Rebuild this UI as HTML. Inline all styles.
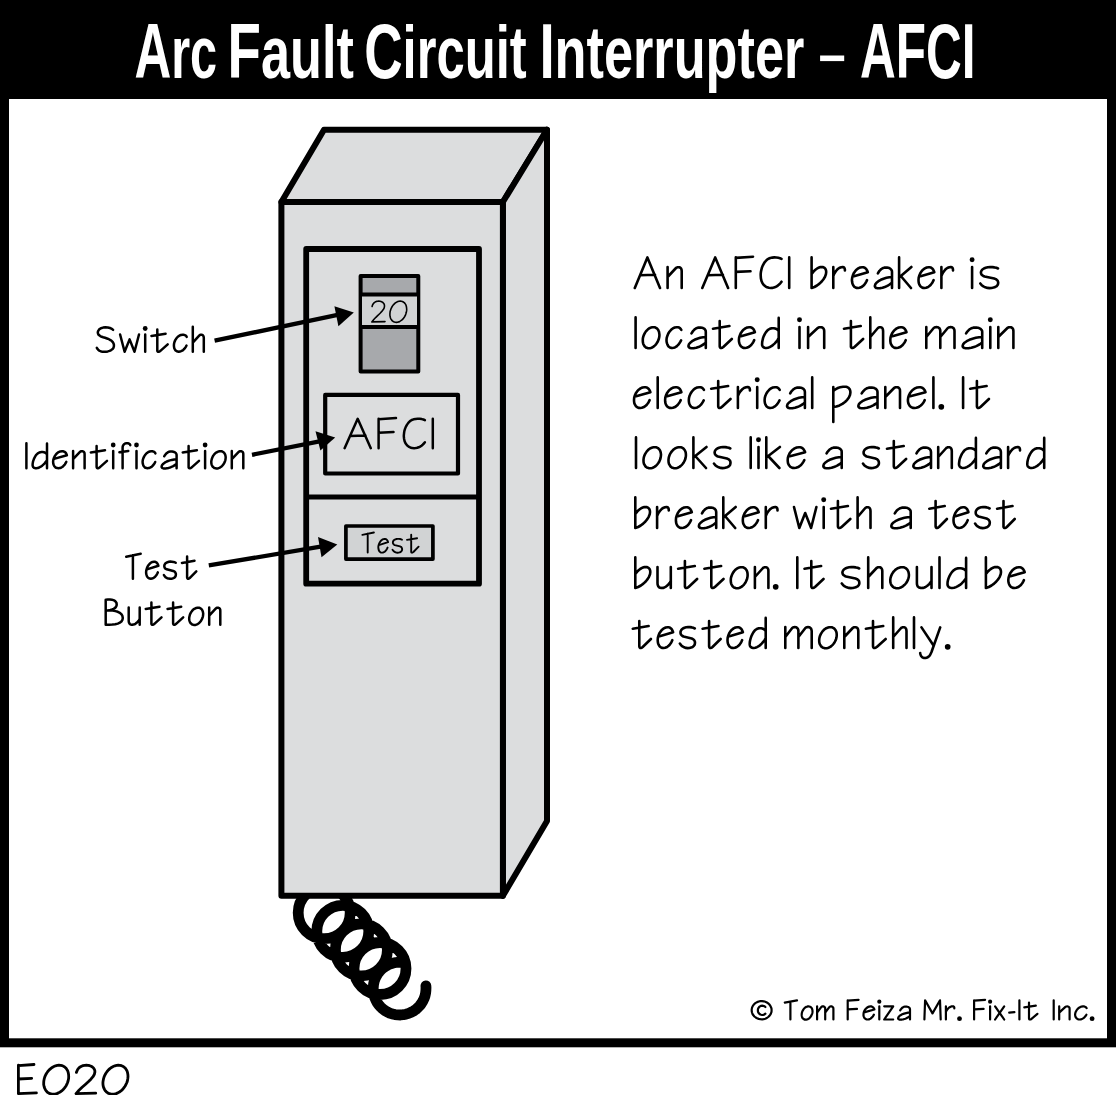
<!DOCTYPE html>
<html><head><meta charset="utf-8"><style>
html,body{margin:0;padding:0;background:#fff;}
body{width:1116px;height:1095px;overflow:hidden;}
svg{display:block;}
text{font-family:"Liberation Sans",sans-serif;}
</style></head><body>
<svg width="1116" height="1095" viewBox="0 0 1116 1095">
<rect x="0" y="0" width="1116" height="1095" fill="#fff"/>
<rect x="0" y="0" width="1116" height="99" fill="#000"/>
<rect x="0" y="0" width="9" height="1047" fill="#000"/>
<rect x="1107" y="0" width="9" height="1047" fill="#000"/>
<rect x="0" y="1038.3" width="1116" height="9" fill="#000"/>
<g font-weight="bold" fill="#fff"><text x="134.40" y="77.7" font-weight="bold" fill="#fff" textLength="82.71" lengthAdjust="spacingAndGlyphs"><tspan font-size="77">A</tspan><tspan font-size="73.5">r</tspan><tspan font-size="73.5">c</tspan></text><text x="227.60" y="77.7" font-weight="bold" fill="#fff" textLength="126.18" lengthAdjust="spacingAndGlyphs"><tspan font-size="77">F</tspan><tspan font-size="73.5">a</tspan><tspan font-size="73.5">u</tspan><tspan font-size="73.5">l</tspan><tspan font-size="73.5">t</tspan></text><text x="364.20" y="77.7" font-weight="bold" fill="#fff" textLength="162.45" lengthAdjust="spacingAndGlyphs"><tspan font-size="77">C</tspan><tspan font-size="73.5">i</tspan><tspan font-size="73.5">r</tspan><tspan font-size="73.5">c</tspan><tspan font-size="73.5">u</tspan><tspan font-size="73.5">i</tspan><tspan font-size="73.5">t</tspan></text><text x="539.40" y="77.7" font-weight="bold" fill="#fff" textLength="264.88" lengthAdjust="spacingAndGlyphs"><tspan font-size="77">I</tspan><tspan font-size="73.5">n</tspan><tspan font-size="73.5">t</tspan><tspan font-size="73.5">e</tspan><tspan font-size="73.5">r</tspan><tspan font-size="73.5">r</tspan><tspan font-size="73.5">u</tspan><tspan font-size="73.5">p</tspan><tspan font-size="73.5">t</tspan><tspan font-size="73.5">e</tspan><tspan font-size="73.5">r</tspan></text><text x="860.00" y="77.7" font-weight="bold" fill="#fff" textLength="115.41" lengthAdjust="spacingAndGlyphs"><tspan font-size="77">A</tspan><tspan font-size="77">F</tspan><tspan font-size="77">C</tspan><tspan font-size="77">I</tspan></text></g><rect x="820.1" y="55.5" width="24.1" height="5.6" fill="#fff"/>
<path d="M298.2 912.7a26.0 26.0 0 1 0 52.0 0a26.0 26.0 0 1 0 -52.0 0M316.8 931.3a26.0 26.0 0 1 0 52.0 0a26.0 26.0 0 1 0 -52.0 0M335.4 949.9a26.0 26.0 0 1 0 52.0 0a26.0 26.0 0 1 0 -52.0 0M354.0 968.5a26.0 26.0 0 1 0 52.0 0a26.0 26.0 0 1 0 -52.0 0M404.2 962.6 401.4 962.3 398.7 962.2 395.9 962.5 393.2 963.0 390.6 963.8 388.0 964.9 385.6 966.2 383.3 967.8 381.3 969.6 379.4 971.6 377.7 973.8 376.3 976.2 375.1 978.7 374.2 981.3 373.6 984.0 373.3 986.8 373.2 989.5 373.5 992.3 374.0 995.0 374.8 997.6 375.9 1000.2 377.2 1002.6 378.8 1004.9 380.6 1006.9 382.6 1008.8 384.8 1010.5 387.2 1011.9 389.7 1013.1 392.3 1014.0 395.0 1014.6 397.8 1014.9 400.5 1015.0 403.3 1014.7 406.0 1014.2 408.6 1013.4 411.2 1012.3 413.6 1011.0 415.9 1009.4 417.9 1007.6 419.8 1005.6 421.5 1003.4 422.9 1001.0 424.1 998.5 425.0 995.9 425.6 993.2 425.9 990.4 426.0 987.7 425.9 985.8" fill="none" stroke="#000" stroke-width="10.8" stroke-linecap="round" stroke-linejoin="round"/>
<g stroke="#000" stroke-width="6" stroke-linejoin="round" fill="#dcddde">
<polygon points="324,129.7 547,129.7 502.9,202 281.4,202"/>
<polygon points="502.9,202 547,129.7 547,821 502.9,895.8"/>
<rect x="281.4" y="202" width="221.5" height="693.8"/>
<rect x="306.2" y="249" width="172.8" height="334.7" stroke-width="5.8"/>
<line x1="306.5" y1="497" x2="479" y2="497" stroke-width="5"/>
<rect x="325.2" y="394.9" width="132.8" height="78.6" stroke-width="4.2"/>
<rect x="345.9" y="526" width="87" height="33.1" stroke-width="3.7" fill="#d1d3d4"/>
</g>
<g stroke="#000" stroke-width="4" stroke-linejoin="round">
<rect x="360.6" y="276" width="57.7" height="95.6" fill="#a7a9ac"/>
<rect x="362" y="294.5" width="55" height="32.5" fill="#d1d3d4" stroke="none"/>
<line x1="360.6" y1="294.5" x2="418.3" y2="294.5"/>
<line x1="360.6" y1="327" x2="418.3" y2="327"/>
</g>
<g stroke="#000" stroke-width="4.3" fill="none">
<line x1="214.6" y1="340.7" x2="340" y2="314.4"/>
<line x1="252" y1="454.8" x2="322" y2="440.8"/>
<line x1="208.8" y1="565.4" x2="325" y2="545.9"/>
</g>
<g fill="#000">
<polygon points="353.8,312.5 334.4,306.3 338.4,326.2"/>
<polygon points="335.2,437.5 315.5,431.3 320.4,450.6"/>
<polygon points="337.3,544.4 318,537.1 321.5,557.3"/>
</g>
<g fill="none" stroke="#000" stroke-linecap="round" stroke-linejoin="round">
<path d="M634.8 288.0 647.4 257.4 660.0 288.0M640.2 275.2 655.0 274.8M667.6 267.0 667.6 288.0M667.6 277.0 676.0 268.0 676.7 267.6 677.5 267.3 678.5 267.2 679.4 267.3 680.3 267.7 681.0 268.4 681.5 269.5 681.7 271.0 681.7 288.0M702.3 288.0 715.2 257.4 728.1 288.0M707.8 275.2 722.9 274.8M735.8 257.4 735.8 288.0M735.8 257.9 753.0 256.7M735.8 271.9 750.5 271.2M781.5 258.9 780.0 258.2 778.3 257.8 776.3 257.5 774.3 257.4 772.3 257.6 770.3 258.0 768.4 258.8 766.8 259.9 765.0 261.8 763.7 263.8 762.6 265.9 761.8 268.0 761.3 270.1 760.9 272.0 760.7 273.8 760.7 275.4 760.9 278.4 761.5 281.0 762.5 283.2 763.8 285.0 765.4 286.3 767.1 287.3 768.9 287.8 770.8 288.0 772.3 287.9 773.8 287.6 775.3 287.0 776.7 286.3 778.1 285.4 779.3 284.3 780.5 283.1 781.5 281.7M789.2 257.4 789.2 288.0M811.6 257.4 811.6 288.0M811.6 274.0 812.7 272.6 813.9 271.2 815.1 270.0 816.4 269.0 817.7 268.2 819.1 267.5 820.4 267.1 821.8 267.0 822.8 267.1 823.7 267.4 824.4 267.8 825.1 268.4 825.5 269.1 825.9 270.0 826.1 270.9 826.2 272.0 825.9 274.3 825.0 276.8 823.5 279.2 821.7 281.5 819.5 283.6 817.0 285.5 814.4 287.0 811.6 288.0M833.3 267.0 833.3 288.0M833.3 276.0 834.0 274.2 835.0 272.5 836.0 271.0 837.2 269.6 838.5 268.5 839.8 267.7 841.2 267.2 842.6 267.0 843.2 267.1 843.7 267.3 844.1 267.6 844.4 268.0 844.6 268.5 844.8 269.1 844.9 269.8 844.9 270.5M854.0 276.2 867.8 272.2 867.4 271.1 866.9 270.1 866.3 269.2 865.7 268.5 864.9 267.9 864.1 267.5 863.2 267.3 862.2 267.2 860.1 267.5 858.2 268.4 856.5 269.7 855.0 271.4 853.7 273.3 852.8 275.5 852.2 277.7 851.9 280.0 852.1 281.8 852.4 283.4 852.9 284.7 853.6 285.9 854.4 286.8 855.5 287.5 856.7 287.9 858.0 288.0 859.5 287.8 860.9 287.3 862.3 286.5 863.5 285.5 864.6 284.3 865.5 283.0 866.3 281.6 867.0 280.2M877.9 273.4 878.7 272.0 879.5 270.8 880.5 269.8 881.4 269.0 882.5 268.3 883.5 267.9 884.6 267.6 885.7 267.5 887.0 267.6 888.2 267.8 889.2 268.1 890.2 268.6 890.9 269.3 891.5 270.0 891.9 270.9 892.0 272.0 892.0 288.0M892.0 277.0 889.3 277.2 886.4 277.8 883.5 278.7 880.8 279.8 878.4 281.2 876.5 282.7 875.3 284.3 874.8 286.0 875.0 286.8 875.4 287.4 876.1 287.9 877.0 288.1 878.0 288.2 879.0 288.2 880.1 288.2 881.0 288.0 882.5 287.7 884.0 287.2 885.4 286.7 886.8 286.1 888.2 285.3 889.5 284.5 890.8 283.6 892.0 282.5M899.1 257.4 899.1 288.0M911.4 267.0 899.1 277.5M900.8 276.0 911.0 288.0M920.6 276.2 934.3 272.2 933.9 271.1 933.4 270.1 932.9 269.2 932.2 268.5 931.5 267.9 930.7 267.5 929.7 267.3 928.7 267.2 926.7 267.5 924.8 268.4 923.0 269.7 921.5 271.4 920.3 273.3 919.3 275.5 918.7 277.7 918.5 280.0 918.6 281.8 918.9 283.4 919.4 284.7 920.1 285.9 921.0 286.8 922.0 287.5 923.2 287.9 924.6 288.0 926.1 287.8 927.5 287.3 928.8 286.5 930.0 285.5 931.1 284.3 932.1 283.0 932.9 281.6 933.6 280.2M941.4 267.0 941.4 288.0M941.4 276.0 942.2 274.2 943.1 272.5 944.2 271.0 945.3 269.6 946.6 268.5 947.9 267.7 949.3 267.2 950.7 267.0 951.3 267.1 951.8 267.3 952.2 267.6 952.5 268.0 952.8 268.5 952.9 269.1 953.0 269.8 953.0 270.5M972.1 267.0 972.1 288.0M998.0 268.5 996.4 267.8 994.4 267.4 992.3 267.1 990.0 267.1 987.8 267.3 985.7 267.8 983.9 268.5 982.4 269.5 981.6 270.5 981.1 271.5 980.9 272.5 981.1 273.6 981.5 274.5 982.3 275.3 983.3 276.0 984.6 276.5 994.2 278.5 995.8 279.1 997.0 280.0 997.8 281.1 998.2 282.4 998.1 283.7 997.6 285.0 996.7 286.1 995.3 287.0 993.6 287.6 991.6 288.0 989.5 288.1 987.4 287.9 985.3 287.3 983.4 286.4 981.7 285.2 980.3 283.5" stroke-width="2.6"/>
<circle fill="#000" stroke="none" cx="972.1" cy="259.7" r="2.47"/>
<path d="M635.6 317.4 635.6 348.0M657.8 341.5 657.0 342.8 656.2 344.0 655.3 345.1 654.2 346.1 653.2 346.9 652.1 347.5 650.9 347.9 649.8 348.2 648.7 348.2 647.6 348.1 646.6 347.8 645.7 347.3 644.9 346.6 644.2 345.7 643.6 344.7 643.2 343.6 642.9 342.3 642.8 341.0 642.8 339.6 642.9 338.1 643.3 336.7 643.7 335.3 644.4 333.9 645.1 332.6 645.9 331.4 646.9 330.3 647.9 329.3 649.0 328.5 650.1 327.9 651.2 327.5 652.3 327.2 653.5 327.2 654.5 327.3 655.5 327.6 656.4 328.1 657.3 328.8 658.0 329.7 658.5 330.7 659.0 331.8 659.2 333.1 659.4 334.4 659.4 335.8 659.2 337.3 658.9 338.7 658.4 340.1 657.8 341.5M681.3 329.9 680.8 329.1 680.3 328.5 679.8 328.0 679.2 327.6 678.5 327.4 677.9 327.3 677.3 327.2 676.7 327.2 674.7 327.5 672.8 328.4 671.1 329.8 669.6 331.5 668.3 333.5 667.4 335.7 666.7 337.9 666.5 340.0 666.6 341.8 667.0 343.4 667.5 344.7 668.1 345.9 668.9 346.8 669.9 347.5 671.0 347.9 672.2 348.0 673.6 347.8 674.9 347.4 676.2 346.7 677.3 345.7 678.4 344.6 679.4 343.3 680.3 341.9 681.1 340.4M691.5 333.4 692.4 332.0 693.2 330.8 694.2 329.8 695.1 329.0 696.2 328.3 697.2 327.9 698.3 327.6 699.4 327.5 700.7 327.6 701.9 327.8 703.0 328.1 704.0 328.6 704.8 329.3 705.3 330.0 705.7 330.9 705.8 332.0 705.8 348.0M705.8 337.0 703.1 337.2 700.1 337.8 697.2 338.7 694.5 339.8 692.1 341.2 690.2 342.7 688.9 344.3 688.4 346.0 688.6 346.8 689.1 347.4 689.8 347.9 690.6 348.1 691.6 348.2 692.7 348.2 693.7 348.2 694.7 348.0 696.2 347.7 697.7 347.2 699.2 346.7 700.6 346.1 701.9 345.3 703.3 344.5 704.6 343.6 705.8 342.5M713.0 328.7 729.4 326.0M719.7 321.0 719.7 346.0 719.8 346.8 720.0 347.4 720.4 347.8 720.8 348.0 721.4 348.0 722.0 347.8 722.6 347.5 723.3 347.0 731.8 339.0M741.0 336.2 754.9 332.2 754.5 331.1 754.0 330.1 753.5 329.2 752.8 328.5 752.0 327.9 751.2 327.5 750.3 327.3 749.3 327.2 747.2 327.5 745.3 328.4 743.5 329.7 742.0 331.4 740.7 333.3 739.8 335.5 739.1 337.7 738.9 340.0 739.0 341.8 739.4 343.4 739.9 344.7 740.6 345.9 741.5 346.8 742.5 347.5 743.7 347.9 745.0 348.0 746.6 347.8 748.0 347.3 749.4 346.5 750.6 345.5 751.7 344.3 752.7 343.0 753.5 341.6 754.2 340.2M778.7 317.9 778.7 348.0M778.7 331.0 777.7 329.8 776.5 329.0 775.1 328.5 773.8 328.2 772.4 328.2 771.0 328.4 769.8 328.8 768.6 329.5 767.3 330.6 766.0 332.1 764.9 333.9 763.9 335.8 763.1 337.9 762.6 340.0 762.2 342.0 762.1 344.0 762.1 345.0 762.4 345.9 762.8 346.6 763.3 347.1 763.9 347.5 764.6 347.8 765.4 348.0 766.3 348.0 767.9 347.8 769.7 347.1 771.4 346.2 773.1 344.9 774.8 343.4 776.3 341.7 777.6 339.9 778.7 338.0M799.5 327.0 799.5 348.0M808.1 327.0 808.1 348.0M808.1 337.0 817.7 328.0 818.5 327.6 819.5 327.3 820.5 327.2 821.6 327.3 822.6 327.7 823.4 328.4 824.0 329.5 824.2 331.0 824.2 348.0M844.0 328.7 860.7 326.0M850.9 321.0 850.9 346.0 850.9 346.8 851.2 347.4 851.5 347.8 852.0 348.0 852.5 348.0 853.1 347.8 853.8 347.5 854.5 347.0 863.1 339.0M870.3 317.4 870.3 348.0M870.3 337.0 877.9 328.0 878.5 327.6 879.3 327.3 880.2 327.2 881.0 327.3 881.8 327.7 882.5 328.4 882.9 329.5 883.1 331.0 883.1 348.0M892.4 336.2 906.5 332.2 906.1 331.1 905.6 330.1 905.0 329.2 904.4 328.5 903.6 327.9 902.7 327.5 901.8 327.3 900.8 327.2 898.7 327.5 896.7 328.4 895.0 329.7 893.4 331.4 892.1 333.3 891.1 335.5 890.5 337.7 890.3 340.0 890.4 341.8 890.7 343.4 891.3 344.7 892.0 345.9 892.9 346.8 893.9 347.5 895.1 347.9 896.5 348.0 898.1 347.8 899.5 347.3 900.9 346.5 902.1 345.5 903.2 344.3 904.2 343.0 905.1 341.6 905.7 340.2M926.3 327.0 926.3 348.0M926.3 337.0 933.7 328.0 934.5 327.5 935.4 327.2 936.5 327.1 937.6 327.2 938.6 327.7 939.5 328.4 940.1 329.5 940.3 331.0 940.3 348.0M940.3 337.0 947.8 328.0 948.6 327.5 949.6 327.2 950.7 327.1 951.8 327.2 952.8 327.7 953.7 328.4 954.3 329.5 954.5 331.0 954.5 348.0M966.1 333.4 967.0 332.0 968.0 330.8 969.0 329.8 970.1 329.0 971.3 328.3 972.5 327.9 973.7 327.6 975.0 327.5 976.5 327.6 977.8 327.8 979.0 328.1 980.1 328.6 981.0 329.3 981.6 330.0 982.1 330.9 982.2 332.0 982.2 348.0M982.2 337.0 979.1 337.2 975.8 337.8 972.5 338.7 969.4 339.8 966.7 341.2 964.5 342.7 963.1 344.3 962.6 346.0 962.8 346.8 963.3 347.4 964.1 347.9 965.1 348.1 966.2 348.2 967.4 348.2 968.6 348.2 969.7 348.0 971.4 347.7 973.0 347.2 974.7 346.7 976.3 346.1 977.8 345.3 979.3 344.5 980.8 343.6 982.2 342.5M990.3 327.0 990.3 348.0M998.3 327.0 998.3 348.0M998.3 337.0 1007.4 328.0 1008.1 327.6 1009.0 327.3 1010.0 327.2 1011.0 327.3 1011.9 327.7 1012.7 328.4 1013.2 329.5 1013.4 331.0 1013.4 348.0" stroke-width="2.6"/>
<circle fill="#000" stroke="none" cx="799.5" cy="319.7" r="2.47"/>
<circle fill="#000" stroke="none" cx="990.3" cy="319.7" r="2.47"/>
<path d="M636.1 396.2 650.4 392.2 650.0 391.1 649.5 390.1 648.9 389.2 648.2 388.5 647.5 387.9 646.6 387.5 645.6 387.3 644.6 387.2 642.5 387.5 640.5 388.4 638.7 389.7 637.1 391.4 635.8 393.3 634.8 395.5 634.2 397.7 634.0 400.0 634.1 401.8 634.4 403.4 635.0 404.7 635.7 405.9 636.6 406.8 637.7 407.5 638.9 407.9 640.3 408.0 641.8 407.8 643.3 407.3 644.7 406.5 646.0 405.5 647.1 404.3 648.1 403.0 648.9 401.6 649.6 400.2M657.7 377.4 657.7 408.0M667.2 396.2 681.4 392.2 681.0 391.1 680.5 390.1 680.0 389.2 679.3 388.5 678.5 387.9 677.6 387.5 676.7 387.3 675.7 387.2 673.5 387.5 671.6 388.4 669.8 389.7 668.2 391.4 666.9 393.3 665.9 395.5 665.3 397.7 665.1 400.0 665.2 401.8 665.5 403.4 666.0 404.7 666.7 405.9 667.6 406.8 668.7 407.5 669.9 407.9 671.3 408.0 672.9 407.8 674.4 407.3 675.8 406.5 677.0 405.5 678.1 404.3 679.1 403.0 680.0 401.6 680.7 400.2M703.9 389.9 703.4 389.1 702.9 388.5 702.3 388.0 701.7 387.6 701.1 387.4 700.5 387.3 699.8 387.2 699.2 387.2 697.1 387.5 695.2 388.4 693.4 389.8 691.9 391.5 690.6 393.5 689.6 395.7 689.0 397.9 688.8 400.0 688.9 401.8 689.2 403.4 689.7 404.7 690.4 405.9 691.2 406.8 692.2 407.5 693.3 407.9 694.6 408.0 696.0 407.8 697.3 407.4 698.6 406.7 699.9 405.7 701.0 404.6 702.0 403.3 702.9 401.9 703.7 400.4M711.2 388.7 728.1 386.0M718.2 381.0 718.2 406.0 718.3 406.8 718.5 407.4 718.8 407.8 719.3 408.0 719.8 408.0 720.5 407.8 721.1 407.5 721.8 407.0 730.5 399.0M737.9 387.0 737.9 408.0M737.9 396.0 738.7 394.2 739.6 392.5 740.7 391.0 742.0 389.6 743.3 388.5 744.6 387.7 746.1 387.2 747.5 387.0 748.2 387.1 748.7 387.3 749.1 387.6 749.4 388.0 749.7 388.5 749.8 389.1 749.9 389.8 749.9 390.5M757.2 387.0 757.2 408.0M779.7 389.9 779.2 389.1 778.7 388.5 778.1 388.0 777.5 387.6 776.9 387.4 776.2 387.3 775.6 387.2 775.0 387.2 772.9 387.5 771.0 388.4 769.2 389.8 767.7 391.5 766.4 393.5 765.4 395.7 764.8 397.9 764.6 400.0 764.7 401.8 765.0 403.4 765.5 404.7 766.2 405.9 767.0 406.8 768.0 407.5 769.1 407.9 770.4 408.0 771.8 407.8 773.1 407.4 774.4 406.7 775.7 405.7 776.8 404.6 777.8 403.3 778.7 401.9 779.5 400.4M790.2 393.4 791.0 392.0 791.9 390.8 792.9 389.8 793.9 389.0 795.0 388.3 796.0 387.9 797.2 387.6 798.3 387.5 799.6 387.6 800.9 387.8 802.0 388.1 803.0 388.6 803.8 389.3 804.4 390.0 804.7 390.9 804.9 392.0 804.9 408.0M804.9 397.0 802.0 397.2 799.0 397.8 796.0 398.7 793.2 399.8 790.8 401.2 788.8 402.7 787.5 404.3 787.0 406.0 787.2 406.8 787.7 407.4 788.4 407.9 789.3 408.1 790.3 408.2 791.4 408.2 792.5 408.2 793.5 408.0 795.0 407.7 796.5 407.2 798.0 406.7 799.5 406.1 800.9 405.3 802.3 404.5 803.6 403.6 804.9 402.5M812.2 377.4 812.2 408.0M833.3 387.0 833.3 422.0M833.3 391.0 834.5 390.0 835.8 389.1 837.2 388.3 838.6 387.7 840.1 387.3 841.6 387.0 843.1 386.8 844.7 386.7 846.0 386.8 847.1 387.1 848.1 387.6 848.9 388.3 849.6 389.1 850.0 390.1 850.3 391.2 850.4 392.5 850.0 395.0 848.9 397.4 847.2 399.8 845.0 402.0 842.4 403.9 839.5 405.4 836.4 406.5 833.3 407.0M861.7 393.4 862.6 392.0 863.6 390.8 864.6 389.8 865.7 389.0 866.8 388.3 868.0 387.9 869.2 387.6 870.4 387.5 871.8 387.6 873.2 387.8 874.4 388.1 875.4 388.6 876.3 389.3 876.9 390.0 877.3 390.9 877.5 392.0 877.5 408.0M877.5 397.0 874.4 397.2 871.2 397.8 868.0 398.7 865.0 399.8 862.3 401.2 860.2 402.7 858.8 404.3 858.3 406.0 858.5 406.8 859.0 407.4 859.7 407.9 860.7 408.1 861.8 408.2 863.0 408.2 864.1 408.2 865.2 408.0 866.9 407.7 868.5 407.2 870.1 406.7 871.6 406.1 873.2 405.3 874.6 404.5 876.1 403.6 877.5 402.5M885.3 387.0 885.3 408.0M885.3 397.0 894.1 388.0 894.8 387.6 895.7 387.3 896.7 387.2 897.7 387.3 898.6 387.7 899.3 388.4 899.9 389.5 900.0 391.0 900.0 408.0M910.2 396.2 925.5 392.2 925.1 391.1 924.6 390.1 923.9 389.2 923.2 388.5 922.4 387.9 921.5 387.5 920.4 387.3 919.3 387.2 917.1 387.5 914.9 388.4 913.0 389.7 911.3 391.4 909.9 393.3 908.8 395.5 908.2 397.7 907.9 400.0 908.0 401.8 908.4 403.4 909.0 404.7 909.7 405.9 910.7 406.8 911.9 407.5 913.2 407.9 914.7 408.0 916.4 407.8 918.0 407.3 919.4 406.5 920.8 405.5 922.0 404.3 923.1 403.0 924.0 401.6 924.7 400.2M933.4 377.4 933.4 408.0M963.1 377.4 963.1 408.0M970.2 388.7 986.6 386.0M976.9 381.0 976.9 406.0 977.0 406.8 977.2 407.4 977.6 407.8 978.0 408.0 978.5 408.0 979.1 407.8 979.8 407.5 980.5 407.0 988.9 399.0" stroke-width="2.6"/>
<circle fill="#000" stroke="none" cx="757.2" cy="379.7" r="2.47"/>
<circle fill="#000" stroke="none" cx="941.3" cy="406.8" r="2.86"/>
<path d="M636.0 437.4 636.0 468.0M659.3 461.5 658.5 462.8 657.6 464.0 656.6 465.1 655.6 466.1 654.4 466.9 653.3 467.5 652.1 467.9 650.9 468.2 649.7 468.2 648.6 468.1 647.6 467.8 646.6 467.3 645.7 466.6 645.0 465.7 644.4 464.7 643.9 463.6 643.6 462.3 643.5 461.0 643.5 459.6 643.7 458.1 644.0 456.7 644.5 455.3 645.2 453.9 646.0 452.6 646.8 451.4 647.8 450.3 648.9 449.3 650.0 448.5 651.2 447.9 652.4 447.5 653.6 447.2 654.7 447.2 655.9 447.3 656.9 447.6 657.9 448.1 658.7 448.8 659.5 449.7 660.1 450.7 660.5 451.8 660.8 453.1 661.0 454.4 660.9 455.8 660.7 457.3 660.4 458.7 659.9 460.1 659.3 461.5M684.2 461.5 683.5 462.8 682.6 464.0 681.6 465.1 680.5 466.1 679.4 466.9 678.2 467.5 677.0 467.9 675.8 468.2 674.7 468.2 673.6 468.1 672.5 467.8 671.6 467.3 670.7 466.6 670.0 465.7 669.4 464.7 668.9 463.6 668.6 462.3 668.5 461.0 668.5 459.6 668.7 458.1 669.0 456.7 669.5 455.3 670.1 453.9 670.9 452.6 671.8 451.4 672.8 450.3 673.9 449.3 675.0 448.5 676.2 447.9 677.3 447.5 678.5 447.2 679.7 447.2 680.8 447.3 681.9 447.6 682.8 448.1 683.7 448.8 684.4 449.7 685.0 450.7 685.5 451.8 685.8 453.1 685.9 454.4 685.9 455.8 685.7 457.3 685.4 458.7 684.9 460.1 684.2 461.5M693.4 437.4 693.4 468.0M706.5 447.0 693.4 457.5M695.2 456.0 706.0 468.0M730.3 448.5 728.8 447.8 727.0 447.4 725.1 447.1 723.0 447.1 720.9 447.3 719.0 447.8 717.3 448.5 716.0 449.5 715.2 450.5 714.8 451.5 714.6 452.5 714.8 453.6 715.2 454.5 715.9 455.3 716.8 456.0 718.0 456.5 726.9 458.5 728.3 459.1 729.4 460.0 730.2 461.1 730.5 462.4 730.4 463.7 730.0 465.0 729.1 466.1 727.8 467.0 726.2 467.6 724.4 468.0 722.5 468.1 720.6 467.9 718.7 467.3 716.9 466.4 715.3 465.2 714.0 463.5M750.7 437.4 750.7 468.0M758.5 447.0 758.5 468.0M766.3 437.4 766.3 468.0M779.9 447.0 766.3 457.5M768.1 456.0 779.4 468.0M789.9 456.2 805.1 452.2 804.7 451.1 804.1 450.1 803.5 449.2 802.8 448.5 802.0 447.9 801.1 447.5 800.1 447.3 799.0 447.2 796.7 447.5 794.6 448.4 792.7 449.7 791.0 451.4 789.6 453.3 788.6 455.5 787.9 457.7 787.7 460.0 787.8 461.8 788.1 463.4 788.7 464.7 789.5 465.9 790.4 466.8 791.6 467.5 792.9 467.9 794.3 468.0 796.0 467.8 797.6 467.3 799.1 466.5 800.4 465.5 801.6 464.3 802.6 463.0 803.5 461.6 804.3 460.2M826.6 453.4 827.4 452.0 828.4 450.8 829.3 449.8 830.4 449.0 831.5 448.3 832.6 447.9 833.8 447.6 834.9 447.5 836.3 447.6 837.6 447.8 838.7 448.1 839.7 448.6 840.6 449.3 841.2 450.0 841.6 450.9 841.7 452.0 841.7 468.0M841.7 457.0 838.8 457.2 835.7 457.8 832.6 458.7 829.7 459.8 827.2 461.2 825.1 462.7 823.8 464.3 823.3 466.0 823.5 466.8 824.0 467.4 824.7 467.9 825.6 468.1 826.7 468.2 827.8 468.2 828.9 468.2 830.0 468.0 831.6 467.7 833.1 467.2 834.6 466.7 836.1 466.1 837.6 465.3 839.0 464.5 840.4 463.6 841.7 462.5M878.8 448.5 877.3 447.8 875.6 447.4 873.7 447.1 871.7 447.1 869.7 447.3 867.8 447.8 866.2 448.5 864.9 449.5 864.2 450.5 863.7 451.5 863.6 452.5 863.7 453.6 864.1 454.5 864.8 455.3 865.7 456.0 866.8 456.5 875.4 458.5 876.8 459.1 877.9 460.0 878.6 461.1 878.9 462.4 878.9 463.7 878.4 465.0 877.6 466.1 876.4 467.0 874.8 467.6 873.1 468.0 871.2 468.1 869.3 467.9 867.5 467.3 865.8 466.4 864.2 465.2 863.0 463.5M887.0 448.7 903.7 446.0M893.8 441.0 893.8 466.0 893.9 466.8 894.1 467.4 894.5 467.8 894.9 468.0 895.5 468.0 896.1 467.8 896.8 467.5 897.5 467.0 906.1 459.0M916.5 453.4 917.3 452.0 918.2 450.8 919.1 449.8 920.1 449.0 921.2 448.3 922.2 447.9 923.3 447.6 924.5 447.5 925.8 447.6 927.0 447.8 928.1 448.1 929.1 448.6 929.9 449.3 930.5 450.0 930.8 450.9 931.0 452.0 931.0 468.0M931.0 457.0 928.2 457.2 925.2 457.8 922.2 458.7 919.5 459.8 917.0 461.2 915.1 462.7 913.8 464.3 913.3 466.0 913.5 466.8 913.9 467.4 914.7 467.9 915.5 468.1 916.6 468.2 917.6 468.2 918.7 468.2 919.7 468.0 921.2 467.7 922.7 467.2 924.2 466.7 925.6 466.1 927.0 465.3 928.4 464.5 929.7 463.6 931.0 462.5M938.2 447.0 938.2 468.0M938.2 457.0 946.3 448.0 947.0 447.6 947.8 447.3 948.7 447.2 949.6 447.3 950.4 447.7 951.1 448.4 951.6 449.5 951.8 451.0 951.8 468.0M975.9 437.9 975.9 468.0M975.9 451.0 974.9 449.8 973.7 449.0 972.3 448.5 970.9 448.2 969.5 448.2 968.2 448.4 966.9 448.8 965.7 449.5 964.3 450.6 963.1 452.1 961.9 453.9 961.0 455.8 960.1 457.9 959.5 460.0 959.2 462.0 959.0 464.0 959.1 465.0 959.4 465.9 959.8 466.6 960.3 467.1 960.9 467.5 961.7 467.8 962.5 468.0 963.3 468.0 965.0 467.8 966.8 467.1 968.5 466.2 970.3 464.9 972.0 463.4 973.5 461.7 974.8 459.9 975.9 458.0M986.3 453.4 987.2 452.0 988.1 450.8 989.0 449.8 990.0 449.0 991.0 448.3 992.1 447.9 993.2 447.6 994.4 447.5 995.7 447.6 996.9 447.8 998.0 448.1 999.0 448.6 999.8 449.3 1000.4 450.0 1000.7 450.9 1000.9 452.0 1000.9 468.0M1000.9 457.0 998.0 457.2 995.1 457.8 992.1 458.7 989.3 459.8 986.9 461.2 984.9 462.7 983.7 464.3 983.2 466.0 983.4 466.8 983.8 467.4 984.5 467.9 985.4 468.1 986.4 468.2 987.5 468.2 988.6 468.2 989.6 468.0 991.1 467.7 992.6 467.2 994.1 466.7 995.5 466.1 996.9 465.3 998.3 464.5 999.6 463.6 1000.9 462.5M1008.1 447.0 1008.1 468.0M1008.1 456.0 1008.9 454.2 1009.9 452.5 1011.0 451.0 1012.2 449.6 1013.5 448.5 1014.8 447.7 1016.2 447.2 1017.7 447.0 1018.3 447.1 1018.8 447.3 1019.3 447.6 1019.6 448.0 1019.8 448.5 1019.9 449.1 1020.0 449.8 1020.0 450.5M1044.2 437.9 1044.2 468.0M1044.2 451.0 1043.1 449.8 1041.9 449.0 1040.6 448.5 1039.2 448.2 1037.8 448.2 1036.4 448.4 1035.1 448.8 1034.0 449.5 1032.6 450.6 1031.3 452.1 1030.2 453.9 1029.2 455.8 1028.4 457.9 1027.8 460.0 1027.4 462.0 1027.3 464.0 1027.4 465.0 1027.6 465.9 1028.0 466.6 1028.6 467.1 1029.2 467.5 1029.9 467.8 1030.7 468.0 1031.6 468.0 1033.3 467.8 1035.0 467.1 1036.8 466.2 1038.5 464.9 1040.2 463.4 1041.7 461.7 1043.1 459.9 1044.2 458.0" stroke-width="2.6"/>
<circle fill="#000" stroke="none" cx="758.5" cy="439.7" r="2.47"/>
<path d="M635.3 497.4 635.3 528.0M635.3 514.0 636.4 512.6 637.6 511.2 638.8 510.0 640.1 509.0 641.4 508.2 642.8 507.5 644.2 507.1 645.6 507.0 646.6 507.1 647.5 507.4 648.2 507.8 648.8 508.4 649.3 509.1 649.7 510.0 649.9 510.9 650.0 512.0 649.7 514.3 648.7 516.8 647.3 519.2 645.4 521.5 643.2 523.6 640.7 525.5 638.1 527.0 635.3 528.0M657.1 507.0 657.1 528.0M657.1 516.0 657.9 514.2 658.8 512.5 659.9 511.0 661.1 509.6 662.3 508.5 663.7 507.7 665.0 507.2 666.4 507.0 667.1 507.1 667.6 507.3 668.0 507.6 668.3 508.0 668.5 508.5 668.7 509.1 668.7 509.8 668.8 510.5M677.9 516.2 691.8 512.2 691.4 511.1 690.9 510.1 690.3 509.2 689.7 508.5 688.9 507.9 688.1 507.5 687.2 507.3 686.2 507.2 684.1 507.5 682.2 508.4 680.4 509.7 678.9 511.4 677.7 513.3 676.7 515.5 676.1 517.7 675.9 520.0 676.0 521.8 676.3 523.4 676.8 524.7 677.5 525.9 678.4 526.8 679.4 527.5 680.6 527.9 682.0 528.0 683.5 527.8 684.9 527.3 686.3 526.5 687.5 525.5 688.6 524.3 689.5 523.0 690.3 521.6 691.0 520.2M702.0 513.4 702.8 512.0 703.6 510.8 704.6 509.8 705.5 509.0 706.6 508.3 707.6 507.9 708.7 507.6 709.8 507.5 711.1 507.6 712.3 507.8 713.4 508.1 714.3 508.6 715.1 509.3 715.7 510.0 716.0 510.9 716.2 512.0 716.2 528.0M716.2 517.0 713.4 517.2 710.5 517.8 707.6 518.7 704.9 519.8 702.5 521.2 700.6 522.7 699.3 524.3 698.9 526.0 699.0 526.8 699.5 527.4 700.2 527.9 701.1 528.1 702.0 528.2 703.1 528.2 704.1 528.2 705.1 528.0 706.6 527.7 708.1 527.2 709.5 526.7 710.9 526.1 712.3 525.3 713.6 524.5 714.9 523.6 716.2 522.5M723.3 497.4 723.3 528.0M735.7 507.0 723.3 517.5M725.0 516.0 735.2 528.0M744.9 516.2 758.7 512.2 758.3 511.1 757.8 510.1 757.3 509.2 756.6 508.5 755.9 507.9 755.0 507.5 754.1 507.3 753.1 507.2 751.0 507.5 749.1 508.4 747.4 509.7 745.9 511.4 744.6 513.3 743.6 515.5 743.0 517.7 742.8 520.0 742.9 521.8 743.2 523.4 743.8 524.7 744.5 525.9 745.3 526.8 746.4 527.5 747.6 527.9 748.9 528.0 750.4 527.8 751.9 527.3 753.2 526.5 754.4 525.5 755.5 524.3 756.5 523.0 757.3 521.6 758.0 520.2M765.8 507.0 765.8 528.0M765.8 516.0 766.6 514.2 767.5 512.5 768.6 511.0 769.8 509.6 771.1 508.5 772.4 507.7 773.8 507.2 775.2 507.0 775.8 507.1 776.3 507.3 776.7 507.6 777.0 508.0 777.3 508.5 777.4 509.1 777.5 509.8 777.5 510.5M794.0 507.0 799.3 528.0 805.2 513.0 811.1 528.0 816.4 507.0M823.7 507.0 823.7 528.0M831.0 508.7 847.9 506.0M837.9 501.0 837.9 526.0 838.0 526.8 838.2 527.4 838.6 527.8 839.0 528.0 839.6 528.0 840.2 527.8 840.9 527.5 841.6 527.0 850.3 519.0M857.6 497.4 857.6 528.0M857.6 517.0 865.3 508.0 865.9 507.6 866.7 507.3 867.6 507.2 868.4 507.3 869.2 507.7 869.9 508.4 870.3 509.5 870.5 511.0 870.5 528.0M894.8 513.4 895.7 512.0 896.6 510.8 897.7 509.8 898.8 509.0 899.9 508.3 901.1 507.9 902.3 507.6 903.6 507.5 905.0 507.6 906.4 507.8 907.6 508.1 908.6 508.6 909.5 509.3 910.1 510.0 910.6 510.9 910.7 512.0 910.7 528.0M910.7 517.0 907.6 517.2 904.4 517.8 901.1 518.7 898.1 519.8 895.4 521.2 893.2 522.7 891.8 524.3 891.3 526.0 891.5 526.8 892.0 527.4 892.8 527.9 893.8 528.1 894.9 528.2 896.0 528.2 897.2 528.2 898.3 528.0 900.0 527.7 901.6 527.2 903.3 526.7 904.8 526.1 906.4 525.3 907.9 524.5 909.3 523.6 910.7 522.5M929.3 508.7 944.7 506.0M935.6 501.0 935.6 526.0 935.7 526.8 935.9 527.4 936.2 527.8 936.6 528.0 937.1 528.0 937.7 527.8 938.3 527.5 939.0 527.0 946.9 519.0M955.5 516.2 968.4 512.2 968.1 511.1 967.6 510.1 967.1 509.2 966.5 508.5 965.8 507.9 965.0 507.5 964.1 507.3 963.2 507.2 961.3 507.5 959.4 508.4 957.8 509.7 956.4 511.4 955.2 513.3 954.3 515.5 953.7 517.7 953.5 520.0 953.6 521.8 953.9 523.4 954.4 524.7 955.1 525.9 955.9 526.8 956.9 527.5 958.0 527.9 959.2 528.0 960.7 527.8 962.0 527.3 963.3 526.5 964.4 525.5 965.4 524.3 966.3 523.0 967.1 521.6 967.7 520.2M989.6 508.5 988.3 507.8 986.7 507.4 984.9 507.1 983.1 507.1 981.2 507.3 979.5 507.8 978.0 508.5 976.9 509.5 976.2 510.5 975.8 511.5 975.7 512.5 975.8 513.6 976.1 514.5 976.7 515.3 977.6 516.0 978.6 516.5 986.5 518.5 987.8 519.1 988.8 520.0 989.5 521.1 989.8 522.4 989.7 523.7 989.3 525.0 988.5 526.1 987.4 527.0 986.0 527.6 984.4 528.0 982.7 528.1 980.9 527.9 979.2 527.3 977.7 526.4 976.3 525.2 975.1 523.5M997.1 508.7 1012.5 506.0M1003.5 501.0 1003.5 526.0 1003.5 526.8 1003.7 527.4 1004.1 527.8 1004.5 528.0 1005.0 528.0 1005.5 527.8 1006.2 527.5 1006.8 527.0 1014.7 519.0" stroke-width="2.6"/>
<circle fill="#000" stroke="none" cx="823.7" cy="499.7" r="2.47"/>
<path d="M635.3 557.4 635.3 588.0M635.3 574.0 636.4 572.6 637.6 571.2 638.9 570.0 640.2 569.0 641.6 568.2 643.0 567.5 644.4 567.1 645.8 567.0 646.8 567.1 647.7 567.4 648.5 567.8 649.1 568.4 649.6 569.1 650.0 570.0 650.2 570.9 650.3 572.0 650.0 574.3 649.0 576.8 647.6 579.2 645.7 581.5 643.4 583.6 640.9 585.5 638.1 587.0 635.3 588.0M657.5 567.0 657.5 583.0 657.6 584.4 657.9 585.5 658.3 586.3 658.8 587.0 659.4 587.5 660.2 587.8 661.0 587.9 661.8 588.0 663.1 587.9 664.3 587.5 665.5 586.8 666.7 586.0 667.8 585.0 668.9 583.8 669.9 582.4 670.8 581.0M670.8 567.0 670.8 588.0M678.1 568.7 694.8 566.0M684.9 561.0 684.9 586.0 685.0 586.8 685.2 587.4 685.6 587.8 686.0 588.0 686.6 588.0 687.2 587.8 687.9 587.5 688.6 587.0 697.1 579.0M704.4 568.7 721.1 566.0M711.3 561.0 711.3 586.0 711.4 586.8 711.6 587.4 711.9 587.8 712.4 588.0 712.9 588.0 713.5 587.8 714.2 587.5 714.9 587.0 723.5 579.0M746.0 581.5 745.3 582.8 744.4 584.0 743.5 585.1 742.4 586.1 741.3 586.9 740.2 587.5 739.0 587.9 737.9 588.2 736.8 588.2 735.7 588.1 734.7 587.8 733.7 587.3 732.9 586.6 732.2 585.7 731.6 584.7 731.2 583.6 730.9 582.3 730.8 581.0 730.8 579.6 730.9 578.1 731.3 576.7 731.8 575.3 732.4 573.9 733.1 572.6 734.0 571.4 734.9 570.3 736.0 569.3 737.1 568.5 738.2 567.9 739.3 567.5 740.5 567.2 741.6 567.2 742.7 567.3 743.7 567.6 744.6 568.1 745.5 568.8 746.2 569.7 746.8 570.7 747.2 571.8 747.5 573.1 747.6 574.4 747.6 575.8 747.4 577.3 747.1 578.7 746.6 580.1 746.0 581.5M754.9 567.0 754.9 588.0M754.9 577.0 763.0 568.0 763.7 567.6 764.5 567.3 765.4 567.2 766.3 567.3 767.1 567.7 767.8 568.5 768.3 569.5 768.4 571.0 768.4 588.0M797.3 557.4 797.3 588.0M804.5 568.7 821.1 566.0M811.3 561.0 811.3 586.0 811.4 586.8 811.6 587.4 812.0 587.8 812.4 588.0 813.0 588.0 813.6 587.8 814.3 587.5 815.0 587.0 823.5 579.0M859.2 568.5 857.6 567.8 855.7 567.4 853.5 567.1 851.3 567.1 849.1 567.3 847.1 567.8 845.3 568.5 843.9 569.5 843.1 570.5 842.6 571.5 842.4 572.5 842.6 573.6 843.0 574.5 843.8 575.3 844.8 576.0 846.0 576.5 855.5 578.5 857.0 579.1 858.2 580.0 859.0 581.1 859.3 582.4 859.3 583.7 858.8 585.0 857.9 586.1 856.5 587.0 854.8 587.6 852.9 588.0 850.8 588.1 848.8 587.9 846.7 587.3 844.8 586.4 843.2 585.2 841.8 583.5M868.2 557.4 868.2 588.0M868.2 577.0 876.6 568.0 877.3 567.6 878.2 567.3 879.1 567.2 880.0 567.3 880.9 567.7 881.6 568.5 882.1 569.5 882.3 571.0 882.3 588.0M907.1 581.5 906.3 582.8 905.3 584.0 904.3 585.1 903.1 586.1 901.9 586.9 900.7 587.5 899.4 587.9 898.2 588.2 896.9 588.2 895.7 588.1 894.6 587.8 893.6 587.3 892.7 586.6 891.9 585.7 891.2 584.7 890.8 583.6 890.4 582.3 890.3 581.0 890.3 579.6 890.5 578.1 890.9 576.7 891.4 575.3 892.1 573.9 892.9 572.6 893.8 571.4 894.9 570.3 896.0 569.3 897.2 568.5 898.5 567.9 899.8 567.5 901.0 567.2 902.3 567.2 903.4 567.3 904.6 567.6 905.6 568.1 906.5 568.8 907.3 569.7 907.9 570.7 908.4 571.8 908.7 573.1 908.9 574.4 908.9 575.8 908.7 577.3 908.3 578.7 907.8 580.1 907.1 581.5M916.9 567.0 916.9 583.0 917.0 584.4 917.3 585.5 917.7 586.3 918.3 587.0 919.0 587.5 919.8 587.8 920.7 587.9 921.6 588.0 923.0 587.9 924.4 587.5 925.7 586.8 927.0 586.0 928.2 585.0 929.4 583.8 930.5 582.4 931.5 581.0M931.5 567.0 931.5 588.0M939.5 557.4 939.5 588.0M966.1 557.9 966.1 588.0M966.1 571.0 964.9 569.8 963.6 569.0 962.1 568.5 960.6 568.2 959.0 568.2 957.5 568.4 956.1 568.8 954.8 569.5 953.3 570.6 951.9 572.1 950.7 573.9 949.6 575.8 948.7 577.9 948.0 580.0 947.6 582.0 947.5 584.0 947.6 585.0 947.9 585.9 948.3 586.6 948.9 587.1 949.6 587.5 950.4 587.8 951.3 588.0 952.2 588.0 954.1 587.8 956.0 587.1 957.9 586.2 959.9 584.9 961.7 583.4 963.4 581.7 964.9 579.9 966.1 578.0M985.9 557.4 985.9 588.0M985.9 574.0 987.0 572.6 988.2 571.2 989.5 570.0 990.8 569.0 992.2 568.2 993.6 567.5 995.0 567.1 996.5 567.0 997.5 567.1 998.4 567.4 999.2 567.8 999.8 568.4 1000.3 569.1 1000.7 570.0 1000.9 570.9 1001.0 572.0 1000.7 574.3 999.7 576.8 998.3 579.2 996.3 581.5 994.1 583.6 991.5 585.5 988.8 587.0 985.9 588.0M1010.5 576.2 1024.7 572.2 1024.3 571.1 1023.8 570.1 1023.2 569.2 1022.5 568.5 1021.8 567.9 1020.9 567.5 1020.0 567.3 1018.9 567.2 1016.8 567.5 1014.8 568.4 1013.0 569.7 1011.5 571.4 1010.2 573.3 1009.2 575.5 1008.6 577.7 1008.3 580.0 1008.4 581.8 1008.8 583.4 1009.3 584.7 1010.0 585.9 1010.9 586.8 1012.0 587.5 1013.2 587.9 1014.6 588.0 1016.2 587.8 1017.6 587.3 1019.0 586.5 1020.3 585.5 1021.4 584.3 1022.4 583.0 1023.2 581.6 1023.9 580.2" stroke-width="2.6"/>
<circle fill="#000" stroke="none" cx="775.7" cy="586.8" r="2.86"/>
<path d="M632.8 628.7 648.6 626.0M639.3 621.0 639.3 646.0 639.4 646.8 639.6 647.4 639.9 647.8 640.3 648.0 640.9 648.0 641.4 647.8 642.1 647.5 642.7 647.0 650.9 639.0M659.7 636.2 673.1 632.2 672.7 631.1 672.2 630.1 671.7 629.2 671.0 628.5 670.3 627.9 669.5 627.5 668.6 627.3 667.7 627.2 665.7 627.5 663.8 628.4 662.1 629.7 660.7 631.4 659.4 633.3 658.5 635.5 657.9 637.7 657.7 640.0 657.8 641.8 658.1 643.4 658.6 644.7 659.3 645.9 660.1 646.8 661.1 647.5 662.3 647.9 663.6 648.0 665.1 647.8 666.5 647.3 667.7 646.5 668.9 645.5 670.0 644.3 670.9 643.0 671.7 641.6 672.3 640.2M694.8 628.5 693.5 627.8 691.8 627.4 690.0 627.1 688.1 627.1 686.2 627.3 684.5 627.8 682.9 628.5 681.7 629.5 681.0 630.5 680.6 631.5 680.5 632.5 680.6 633.6 681.0 634.5 681.6 635.3 682.5 636.0 683.5 636.5 691.7 638.5 693.0 639.1 694.0 640.0 694.7 641.1 695.0 642.4 694.9 643.7 694.5 645.0 693.7 646.1 692.6 647.0 691.1 647.6 689.5 648.0 687.7 648.1 685.9 647.9 684.2 647.3 682.5 646.4 681.1 645.2 679.9 643.5M702.6 628.7 718.4 626.0M709.1 621.0 709.1 646.0 709.2 646.8 709.4 647.4 709.7 647.8 710.1 648.0 710.6 648.0 711.2 647.8 711.9 647.5 712.5 647.0 720.6 639.0M729.5 636.2 742.9 632.2 742.5 631.1 742.0 630.1 741.5 629.2 740.8 628.5 740.1 627.9 739.3 627.5 738.4 627.3 737.4 627.2 735.5 627.5 733.6 628.4 731.9 629.7 730.4 631.4 729.2 633.3 728.3 635.5 727.7 637.7 727.5 640.0 727.6 641.8 727.9 643.4 728.4 644.7 729.1 645.9 729.9 646.8 730.9 647.5 732.1 647.9 733.4 648.0 734.9 647.8 736.2 647.3 737.5 646.5 738.7 645.5 739.8 644.3 740.7 643.0 741.5 641.6 742.1 640.2M765.7 617.9 765.7 648.0M765.7 631.0 764.7 629.8 763.5 629.0 762.3 628.5 761.0 628.2 759.6 628.2 758.3 628.4 757.1 628.8 756.0 629.5 754.7 630.6 753.5 632.1 752.5 633.9 751.5 635.8 750.8 637.9 750.2 640.0 749.8 642.0 749.7 644.0 749.8 645.0 750.0 645.9 750.4 646.6 750.9 647.1 751.5 647.5 752.2 647.8 753.0 648.0 753.8 648.0 755.4 647.8 757.0 647.1 758.7 646.2 760.4 644.9 761.9 643.4 763.4 641.7 764.7 639.9 765.7 638.0M785.3 627.0 785.3 648.0M785.3 637.0 792.2 628.0 792.9 627.5 793.8 627.2 794.8 627.1 795.9 627.2 796.8 627.7 797.6 628.4 798.2 629.5 798.4 631.0 798.4 648.0M798.4 637.0 805.4 628.0 806.1 627.5 807.0 627.2 808.0 627.1 809.1 627.2 810.1 627.7 810.9 628.4 811.4 629.5 811.7 631.0 811.7 648.0M835.0 641.5 834.3 642.8 833.4 644.0 832.4 645.1 831.3 646.1 830.2 646.9 829.0 647.5 827.8 647.9 826.6 648.2 825.4 648.2 824.3 648.1 823.3 647.8 822.3 647.3 821.4 646.6 820.7 645.7 820.1 644.7 819.6 643.6 819.3 642.3 819.2 641.0 819.2 639.6 819.4 638.1 819.7 636.7 820.2 635.3 820.9 633.9 821.7 632.6 822.5 631.4 823.5 630.3 824.6 629.3 825.7 628.5 826.9 627.9 828.1 627.5 829.3 627.2 830.5 627.2 831.6 627.3 832.6 627.6 833.6 628.1 834.5 628.8 835.2 629.7 835.8 630.7 836.3 631.8 836.6 633.1 836.7 634.4 836.7 635.8 836.5 637.3 836.2 638.7 835.7 640.1 835.0 641.5M844.3 627.0 844.3 648.0M844.3 637.0 852.7 628.0 853.3 627.6 854.2 627.3 855.1 627.2 856.1 627.3 856.9 627.7 857.7 628.5 858.1 629.5 858.3 631.0 858.3 648.0M865.9 628.7 883.2 626.0M873.0 621.0 873.0 646.0 873.1 646.8 873.3 647.4 873.7 647.8 874.1 648.0 874.7 648.0 875.3 647.8 876.0 647.5 876.8 647.0 885.7 639.0M893.2 617.4 893.2 648.0M893.2 637.0 901.1 628.0 901.8 627.6 902.6 627.3 903.5 627.2 904.4 627.3 905.2 627.7 905.9 628.5 906.3 629.5 906.5 631.0 906.5 648.0M914.0 617.4 914.0 648.0M921.5 627.4 933.2 645.0M940.2 627.4 931.5 652.0 930.8 653.5 930.2 654.8 929.4 655.9 928.5 656.7 927.6 657.3 926.6 657.7 925.6 657.9 924.5 658.0 923.6 657.9 922.8 657.6 922.2 657.2 921.6 656.6 921.1 655.9 920.7 655.0 920.4 654.1 920.2 653.0" stroke-width="2.6"/>
<circle fill="#000" stroke="none" cx="947.7" cy="646.8" r="2.86"/>
<path d="M113.1 329.9 111.9 328.8 110.0 328.0 107.8 327.5 105.4 327.3 103.1 327.6 100.9 328.3 99.2 329.4 98.1 331.1 97.8 332.3 98.0 333.5 98.4 334.5 99.2 335.3 100.3 336.1 101.7 336.8 103.2 337.3 105.0 337.8 107.0 338.5 108.9 339.2 110.4 340.1 111.8 341.1 112.8 342.2 113.5 343.4 113.9 344.7 113.9 346.2 113.5 347.8 112.6 349.1 111.2 350.1 109.6 350.9 107.8 351.4 106.0 351.7 104.2 351.8 102.5 351.8 101.5 351.5 100.6 351.2 99.7 350.8 98.9 350.4 98.3 349.8 97.7 349.2 97.2 348.5 96.8 347.8M120.1 334.5 124.6 351.8 129.6 339.4 134.5 351.8 139.0 334.5M145.2 334.5 145.2 351.8M151.4 335.9 165.6 333.7M157.3 329.6 157.3 350.1 157.3 350.8 157.5 351.3 157.8 351.6 158.2 351.8 158.7 351.8 159.2 351.6 159.8 351.3 160.4 350.9 167.7 344.4M186.7 336.9 186.3 336.2 185.8 335.7 185.3 335.3 184.8 335.1 184.3 334.9 183.7 334.8 183.2 334.7 182.7 334.7 180.9 335.0 179.3 335.7 177.8 336.8 176.5 338.3 175.4 339.9 174.6 341.6 174.1 343.4 173.9 345.2 174.0 346.6 174.2 347.9 174.7 349.1 175.2 350.0 176.0 350.8 176.8 351.3 177.7 351.6 178.8 351.8 180.0 351.6 181.1 351.2 182.2 350.7 183.2 349.9 184.2 349.0 185.1 347.9 185.8 346.8 186.5 345.5M192.8 326.7 192.8 351.8M192.8 342.7 199.4 335.4 199.9 335.0 200.6 334.8 201.3 334.7 202.0 334.8 202.7 335.1 203.2 335.7 203.6 336.6 203.8 337.8 203.8 351.8" stroke-width="2.5"/>
<circle fill="#000" stroke="none" cx="145.2" cy="328.5" r="2.38"/>
<path d="M26.4 443.2 26.4 468.2M47.0 443.6 47.0 468.2M47.0 454.3 46.1 453.4 45.0 452.7 43.9 452.2 42.7 452.0 41.5 452.0 40.4 452.2 39.3 452.5 38.3 453.1 37.1 454.0 36.0 455.2 35.1 456.7 34.2 458.3 33.6 459.9 33.0 461.7 32.7 463.4 32.6 465.0 32.7 465.8 32.9 466.5 33.2 467.1 33.7 467.5 34.2 467.9 34.8 468.1 35.5 468.2 36.3 468.2 37.7 468.1 39.2 467.5 40.7 466.7 42.2 465.7 43.6 464.4 44.9 463.1 46.0 461.6 47.0 460.1M54.9 458.6 66.9 455.3 66.6 454.4 66.2 453.5 65.7 452.8 65.1 452.3 64.5 451.8 63.7 451.5 62.9 451.3 62.1 451.2 60.3 451.4 58.6 452.1 57.1 453.2 55.8 454.6 54.7 456.2 53.9 458.0 53.3 459.8 53.1 461.7 53.2 463.1 53.5 464.4 54.0 465.6 54.6 466.5 55.3 467.3 56.2 467.8 57.3 468.1 58.4 468.2 59.8 468.1 61.0 467.7 62.2 467.0 63.2 466.2 64.2 465.2 65.0 464.2 65.7 463.0 66.3 461.9M73.1 451.0 73.1 468.2M73.1 459.2 80.0 451.9 80.6 451.5 81.2 451.3 82.0 451.2 82.8 451.3 83.5 451.6 84.1 452.2 84.5 453.1 84.6 454.3 84.6 468.2M90.8 452.4 105.0 450.2M96.6 446.1 96.6 466.6 96.7 467.3 96.9 467.8 97.2 468.1 97.6 468.2 98.0 468.3 98.6 468.1 99.1 467.8 99.7 467.4 107.0 460.9M113.2 451.0 113.2 468.2M122.6 468.2 122.6 447.9 122.7 446.7 123.0 445.6 123.5 444.8 124.1 444.2 124.8 443.7 125.5 443.4 126.3 443.2 127.1 443.2 127.7 443.2 128.2 443.3 128.7 443.5 129.1 443.7 129.5 444.0 129.9 444.3 130.1 444.7 130.3 445.1M119.4 452.3 128.3 451.0M136.5 451.0 136.5 468.2M155.4 453.4 155.0 452.7 154.6 452.2 154.1 451.8 153.6 451.6 153.0 451.4 152.5 451.3 151.9 451.2 151.4 451.2 149.7 451.5 148.1 452.2 146.6 453.3 145.3 454.8 144.2 456.4 143.4 458.1 142.8 459.9 142.6 461.7 142.7 463.1 143.0 464.4 143.4 465.6 144.0 466.5 144.7 467.3 145.6 467.8 146.5 468.1 147.5 468.2 148.7 468.1 149.9 467.7 151.0 467.2 152.0 466.4 152.9 465.5 153.8 464.4 154.6 463.3 155.2 462.0M164.2 456.3 164.9 455.2 165.7 454.2 166.5 453.3 167.3 452.7 168.2 452.1 169.1 451.7 170.1 451.5 171.1 451.4 172.2 451.5 173.2 451.7 174.2 452.0 175.0 452.4 175.6 452.9 176.1 453.5 176.5 454.3 176.6 455.1 176.6 468.2M176.6 459.2 174.2 459.4 171.7 459.9 169.1 460.6 166.8 461.5 164.7 462.7 163.0 463.9 162.0 465.2 161.6 466.6 161.7 467.3 162.1 467.8 162.7 468.1 163.5 468.4 164.3 468.5 165.2 468.5 166.1 468.4 167.0 468.2 168.3 468.0 169.6 467.6 170.8 467.2 172.0 466.7 173.2 466.1 174.4 465.4 175.5 464.6 176.6 463.7M182.7 452.4 196.9 450.2M188.6 446.1 188.6 466.6 188.6 467.3 188.8 467.8 189.1 468.1 189.5 468.2 190.0 468.3 190.5 468.1 191.1 467.8 191.7 467.4 199.0 460.9M205.1 451.0 205.1 468.2M224.3 462.9 223.6 464.0 222.9 465.0 222.1 465.9 221.2 466.7 220.3 467.3 219.3 467.8 218.4 468.2 217.4 468.4 216.4 468.5 215.5 468.3 214.6 468.1 213.8 467.6 213.1 467.1 212.5 466.4 212.0 465.5 211.7 464.6 211.4 463.6 211.3 462.5 211.3 461.3 211.5 460.2 211.8 459.0 212.2 457.8 212.7 456.7 213.3 455.6 214.0 454.6 214.9 453.7 215.7 452.9 216.7 452.3 217.6 451.8 218.6 451.4 219.6 451.2 220.5 451.2 221.5 451.3 222.3 451.5 223.1 452.0 223.8 452.5 224.4 453.2 224.9 454.1 225.3 455.0 225.5 456.0 225.7 457.1 225.6 458.3 225.5 459.4 225.2 460.6 224.8 461.8 224.3 462.9M231.8 451.0 231.8 468.2M231.8 459.2 238.7 451.9 239.3 451.5 240.0 451.3 240.7 451.2 241.5 451.3 242.2 451.6 242.8 452.2 243.2 453.1 243.3 454.3 243.3 468.2" stroke-width="2.5"/>
<circle fill="#000" stroke="none" cx="113.2" cy="445.0" r="2.38"/>
<circle fill="#000" stroke="none" cx="136.5" cy="445.0" r="2.38"/>
<circle fill="#000" stroke="none" cx="205.1" cy="445.0" r="2.38"/>
<path d="M126.2 556.7 140.7 553.8M132.9 555.3 132.9 578.8M147.7 569.1 158.4 565.8 158.1 564.9 157.7 564.0 157.3 563.3 156.8 562.8 156.2 562.3 155.5 562.0 154.8 561.8 154.1 561.7 152.5 561.9 151.0 562.6 149.7 563.7 148.5 565.1 147.5 566.7 146.8 568.5 146.3 570.3 146.1 572.2 146.2 573.6 146.5 574.9 146.9 576.1 147.4 577.0 148.1 577.8 148.9 578.3 149.8 578.6 150.8 578.8 152.0 578.6 153.1 578.2 154.1 577.5 155.1 576.7 155.9 575.7 156.7 574.7 157.3 573.5 157.8 572.4M175.7 562.8 174.7 562.2 173.4 561.9 171.9 561.7 170.4 561.6 168.9 561.8 167.5 562.2 166.3 562.8 165.3 563.6 164.7 564.4 164.4 565.2 164.3 566.1 164.4 566.9 164.7 567.7 165.2 568.4 165.9 568.9 166.7 569.3 173.2 571.0 174.3 571.4 175.1 572.2 175.6 573.1 175.9 574.1 175.8 575.2 175.5 576.3 174.9 577.2 173.9 577.9 172.8 578.4 171.5 578.8 170.1 578.8 168.6 578.6 167.2 578.2 165.9 577.5 164.8 576.4 163.9 575.1M181.9 562.9 194.5 560.7M187.1 556.6 187.1 577.1 187.2 577.8 187.4 578.3 187.6 578.6 188.0 578.8 188.4 578.8 188.8 578.6 189.3 578.3 189.9 577.9 196.3 571.4" stroke-width="2.5"/>
<path d="M105.7 599.7 105.7 624.8M105.7 599.7 107.9 599.5 110.0 599.5 111.9 599.7 113.5 600.1 114.9 600.8 115.8 601.8 116.5 603.0 116.7 604.5 116.5 605.8 115.9 607.0 114.9 608.0 113.6 608.8 112.1 609.4 110.4 609.9 108.5 610.2 106.4 610.4 109.6 610.4 112.6 610.6 115.4 611.1 117.8 611.8 119.9 612.9 121.4 614.2 122.4 615.9 122.8 618.0 122.4 619.9 121.4 621.5 119.8 622.7 117.8 623.6 115.2 624.3 112.3 624.6 109.1 624.8 105.7 624.8M128.7 607.5 128.7 620.6 128.8 621.8 129.0 622.7 129.4 623.4 129.8 623.9 130.3 624.3 130.9 624.6 131.6 624.7 132.3 624.8 133.3 624.6 134.4 624.3 135.4 623.8 136.3 623.1 137.3 622.3 138.1 621.3 139.0 620.2 139.7 619.0M139.7 607.5 139.7 624.8M145.7 608.9 159.5 606.7M151.4 602.6 151.4 623.1 151.4 623.8 151.6 624.3 151.9 624.6 152.3 624.8 152.7 624.8 153.2 624.6 153.8 624.3 154.4 623.9 161.5 617.4M167.5 608.9 181.2 606.7M173.1 602.6 173.1 623.1 173.2 623.8 173.4 624.3 173.7 624.6 174.0 624.8 174.5 624.8 175.0 624.6 175.5 624.3 176.1 623.9 183.2 617.4M201.8 619.4 201.2 620.5 200.5 621.5 199.7 622.4 198.9 623.2 198.0 623.8 197.0 624.3 196.1 624.7 195.1 624.9 194.2 625.0 193.3 624.8 192.5 624.6 191.7 624.1 191.0 623.6 190.4 622.9 189.9 622.0 189.6 621.1 189.3 620.1 189.2 619.0 189.2 617.8 189.4 616.7 189.7 615.5 190.0 614.3 190.6 613.2 191.2 612.1 191.9 611.1 192.7 610.2 193.5 609.4 194.4 608.8 195.4 608.3 196.3 607.9 197.3 607.7 198.2 607.7 199.1 607.8 199.9 608.0 200.7 608.5 201.4 609.0 202.0 609.7 202.4 610.6 202.8 611.5 203.0 612.5 203.2 613.6 203.1 614.8 203.0 615.9 202.7 617.1 202.3 618.3 201.8 619.4M209.2 607.5 209.2 624.8M209.2 615.7 215.9 608.4 216.4 608.0 217.1 607.8 217.8 607.7 218.5 607.8 219.2 608.1 219.8 608.7 220.2 609.6 220.3 610.8 220.3 624.8" stroke-width="2.5"/>
<path d="M344.6 448.2 357.7 418.8 370.8 448.2M350.2 435.9 365.5 435.5M378.6 418.8 378.6 448.2M378.6 419.2 396.0 418.0M378.6 432.7 393.5 432.1M424.9 420.2 423.4 419.5 421.7 419.1 419.7 418.8 417.7 418.7 415.6 418.9 413.6 419.3 411.7 420.0 410.0 421.1 408.3 422.9 406.9 424.9 405.8 426.9 405.0 428.9 404.4 430.9 404.1 432.8 403.9 434.6 403.8 436.1 404.1 439.0 404.7 441.5 405.7 443.6 407.0 445.3 408.6 446.6 410.3 447.5 412.2 448.1 414.1 448.2 415.7 448.1 417.2 447.8 418.7 447.3 420.1 446.6 421.5 445.7 422.7 444.7 423.9 443.5 424.9 442.2M432.8 418.8 432.8 448.2" stroke-width="2.5"/>
<path d="M362.3 534.9 373.9 532.5M367.7 533.8 367.7 552.6M379.6 544.9 388.1 542.2 387.9 541.5 387.6 540.8 387.2 540.2 386.8 539.8 386.4 539.4 385.8 539.1 385.3 539.0 384.6 538.9 383.4 539.1 382.2 539.7 381.1 540.6 380.2 541.7 379.4 543.0 378.8 544.4 378.4 545.9 378.3 547.4 378.4 548.5 378.6 549.6 378.9 550.5 379.3 551.2 379.8 551.8 380.5 552.3 381.2 552.6 382.0 552.6 383.0 552.5 383.9 552.2 384.7 551.7 385.5 551.0 386.1 550.2 386.7 549.4 387.2 548.4 387.6 547.5M402.0 539.8 401.2 539.3 400.1 539.0 398.9 538.9 397.7 538.9 396.5 539.0 395.4 539.3 394.4 539.8 393.7 540.4 393.2 541.1 392.9 541.8 392.9 542.5 392.9 543.1 393.2 543.7 393.6 544.3 394.1 544.7 394.8 545.1 400.0 546.4 400.9 546.8 401.5 547.3 401.9 548.1 402.1 548.9 402.1 549.8 401.8 550.6 401.3 551.4 400.6 552.0 399.6 552.4 398.6 552.6 397.5 552.7 396.3 552.6 395.2 552.2 394.2 551.6 393.3 550.8 392.5 549.7M407.0 539.9 417.1 538.2M411.2 534.8 411.2 551.3 411.2 551.9 411.3 552.3 411.5 552.5 411.8 552.6 412.1 552.7 412.5 552.5 412.9 552.3 413.4 552.0 418.6 546.7" stroke-width="1.9"/>
<path d="M372.1 306.4 372.5 305.1 373.1 304.0 373.8 303.1 374.6 302.4 375.5 301.8 376.5 301.4 377.6 301.2 378.8 301.1 380.0 301.2 381.0 301.5 382.0 301.9 382.9 302.5 383.5 303.2 384.1 304.0 384.4 305.0 384.5 306.1 384.2 307.8 383.3 309.6 381.8 311.4 380.1 313.2 378.1 315.2 375.9 317.3 373.8 319.5 371.8 321.9 385.0 321.6M405.4 315.2 404.7 316.5 403.9 317.8 403.0 318.9 402.0 319.9 400.9 320.7 399.8 321.4 398.7 321.9 397.5 322.2 396.4 322.4 395.3 322.3 394.3 322.0 393.3 321.5 392.4 320.9 391.7 320.1 391.0 319.1 390.5 318.0 390.2 316.7 389.9 315.4 389.9 314.0 390.0 312.6 390.2 311.2 390.7 309.7 391.2 308.3 391.9 307.0 392.7 305.7 393.6 304.6 394.6 303.6 395.6 302.7 396.8 302.1 397.9 301.6 399.0 301.2 400.2 301.1 401.3 301.2 402.3 301.5 403.3 302.0 404.2 302.6 404.9 303.4 405.6 304.4 406.1 305.5 406.4 306.7 406.6 308.1 406.7 309.5 406.6 310.9 406.3 312.3 405.9 313.8 405.4 315.2" stroke-width="1.6"/>
<path d="M771.6 1010.2 771.5 1011.8 771.0 1013.2 770.3 1014.7 769.4 1015.9 768.2 1017.0 766.9 1018.0 765.3 1018.7 763.7 1019.1 762.1 1019.3 760.4 1019.2 758.7 1018.9 757.1 1018.3 755.7 1017.5 754.4 1016.5 753.4 1015.3 752.5 1014.0 752.0 1012.5 751.7 1011.0 751.7 1009.4 752.0 1007.9 752.5 1006.5 753.4 1005.1 754.4 1003.9 755.7 1002.9 757.1 1002.1 758.7 1001.5 760.4 1001.2 762.1 1001.1 763.7 1001.3 765.3 1001.8 766.9 1002.5 768.2 1003.4 769.4 1004.5 770.3 1005.8 771.0 1007.2 771.5 1008.7 771.6 1010.2M765.4 1007.0 764.7 1006.4 763.9 1006.0 763.0 1005.8 762.1 1005.7 761.2 1005.8 760.4 1006.1 759.6 1006.6 758.9 1007.3 758.4 1008.1 758.0 1008.9 757.9 1009.9 757.9 1010.8 758.0 1011.7 758.4 1012.6 758.9 1013.4 759.6 1014.0 760.4 1014.5 761.2 1014.8 762.1 1015.0 763.0 1014.9 763.9 1014.7 764.7 1014.2 765.4 1013.6M784.8 1002.6 797.0 1000.3M790.4 1001.5 790.4 1019.5M811.4 1015.4 811.0 1016.2 810.4 1017.0 809.8 1017.7 809.2 1018.3 808.5 1018.8 807.7 1019.2 807.0 1019.5 806.3 1019.6 805.5 1019.7 804.8 1019.6 804.2 1019.4 803.6 1019.0 803.1 1018.6 802.6 1018.1 802.2 1017.4 802.0 1016.7 801.8 1015.9 801.7 1015.1 801.7 1014.2 801.8 1013.3 802.0 1012.4 802.3 1011.5 802.7 1010.6 803.2 1009.8 803.7 1009.0 804.4 1008.3 805.0 1007.7 805.7 1007.2 806.4 1006.8 807.2 1006.6 807.9 1006.4 808.6 1006.4 809.3 1006.5 810.0 1006.7 810.6 1007.0 811.1 1007.4 811.6 1008.0 811.9 1008.6 812.2 1009.3 812.4 1010.1 812.5 1011.0 812.5 1011.8 812.4 1012.7 812.2 1013.6 811.8 1014.5 811.4 1015.4M817.1 1006.3 817.1 1019.5M817.1 1012.6 821.4 1006.9 821.8 1006.6 822.4 1006.4 823.0 1006.3 823.7 1006.4 824.3 1006.7 824.7 1007.2 825.1 1007.9 825.2 1008.8 825.2 1019.5M825.2 1012.6 829.5 1006.9 830.0 1006.6 830.5 1006.4 831.2 1006.3 831.8 1006.4 832.4 1006.7 832.9 1007.2 833.3 1007.9 833.4 1008.8 833.4 1019.5M847.7 1000.3 847.7 1019.5M847.7 1000.6 858.6 999.8M847.7 1009.4 857.0 1008.9M864.9 1012.1 874.4 1009.5 874.1 1008.8 873.8 1008.2 873.4 1007.7 873.0 1007.2 872.4 1006.9 871.9 1006.6 871.2 1006.4 870.5 1006.4 869.1 1006.6 867.8 1007.1 866.6 1008.0 865.6 1009.0 864.7 1010.2 864.0 1011.6 863.6 1013.0 863.5 1014.5 863.5 1015.6 863.8 1016.6 864.1 1017.4 864.6 1018.2 865.2 1018.7 865.9 1019.2 866.7 1019.4 867.7 1019.5 868.7 1019.4 869.7 1019.1 870.6 1018.6 871.4 1017.9 872.2 1017.2 872.9 1016.4 873.4 1015.5 873.9 1014.6M879.3 1006.3 879.3 1019.5M884.2 1006.3 893.2 1006.3 884.2 1019.5 893.2 1019.5M900.2 1010.3 900.8 1009.4 901.4 1008.7 902.0 1008.0 902.7 1007.5 903.4 1007.1 904.1 1006.8 904.9 1006.6 905.6 1006.6 906.5 1006.6 907.3 1006.8 908.1 1007.0 908.7 1007.3 909.3 1007.7 909.7 1008.2 909.9 1008.8 910.0 1009.4 910.0 1019.5M910.0 1012.6 908.1 1012.7 906.1 1013.1 904.1 1013.6 902.2 1014.3 900.6 1015.2 899.3 1016.2 898.4 1017.2 898.1 1018.2 898.2 1018.8 898.5 1019.1 899.0 1019.4 899.6 1019.6 900.3 1019.7 901.0 1019.7 901.7 1019.6 902.4 1019.5 903.4 1019.3 904.4 1019.0 905.4 1018.7 906.4 1018.3 907.3 1017.8 908.3 1017.3 909.1 1016.7 910.0 1016.0M924.4 1019.5 925.1 1000.3 932.5 1013.4 940.0 1000.3 940.7 1019.5M945.9 1006.3 945.9 1019.5M945.9 1011.9 946.4 1010.8 947.1 1009.7 947.9 1008.8 948.7 1007.9 949.7 1007.2 950.6 1006.7 951.6 1006.4 952.6 1006.3 953.1 1006.3 953.5 1006.4 953.8 1006.6 954.0 1006.9 954.2 1007.2 954.3 1007.6 954.3 1008.0 954.3 1008.5M974.1 1000.3 974.1 1019.5M974.1 1000.6 985.1 999.8M974.1 1009.4 983.6 1008.9M990.1 1006.3 990.1 1019.5M995.1 1006.3 1004.2 1019.5M1004.2 1006.3 995.1 1019.5M1009.2 1012.6 1014.4 1012.1M1019.4 1000.3 1019.4 1019.5M1024.3 1007.3 1035.8 1005.7M1029.0 1002.5 1029.0 1018.2 1029.1 1018.8 1029.2 1019.1 1029.5 1019.4 1029.8 1019.5 1030.2 1019.5 1030.6 1019.4 1031.0 1019.2 1031.5 1018.9 1037.4 1013.8M1053.7 1000.3 1053.7 1019.5M1059.2 1006.3 1059.2 1019.5M1059.2 1012.6 1065.4 1006.9 1065.9 1006.6 1066.5 1006.5 1067.2 1006.4 1067.9 1006.5 1068.6 1006.7 1069.1 1007.2 1069.5 1007.9 1069.6 1008.8 1069.6 1019.5M1086.6 1008.1 1086.2 1007.6 1085.8 1007.2 1085.4 1006.9 1084.9 1006.7 1084.4 1006.5 1083.9 1006.4 1083.5 1006.4 1083.0 1006.4 1081.4 1006.6 1080.0 1007.2 1078.6 1008.0 1077.5 1009.1 1076.5 1010.4 1075.8 1011.7 1075.3 1013.1 1075.1 1014.5 1075.2 1015.6 1075.4 1016.6 1075.8 1017.4 1076.4 1018.2 1077.0 1018.7 1077.7 1019.2 1078.6 1019.4 1079.5 1019.5 1080.6 1019.4 1081.6 1019.1 1082.6 1018.7 1083.5 1018.1 1084.4 1017.4 1085.1 1016.5 1085.8 1015.7 1086.4 1014.7" stroke-width="2.2"/>
<circle fill="#000" stroke="none" cx="879.3" cy="1001.7" r="2.09"/>
<circle fill="#000" stroke="none" cx="959.5" cy="1018.7" r="2.42"/>
<circle fill="#000" stroke="none" cx="990.1" cy="1001.7" r="2.09"/>
<circle fill="#000" stroke="none" cx="1092.1" cy="1018.7" r="2.42"/>
<path d="M18.4 1065.2 18.4 1093.6M18.4 1065.6 34.0 1064.5M18.4 1079.0 31.7 1078.3M18.4 1093.6 36.4 1092.9M66.8 1084.4 65.8 1086.2 64.6 1087.9 63.2 1089.5 61.7 1090.9 60.1 1092.0 58.5 1092.9 56.8 1093.6 55.1 1094.1 53.4 1094.2 51.8 1094.1 50.2 1093.7 48.8 1093.1 47.4 1092.2 46.3 1091.1 45.4 1089.7 44.6 1088.2 44.1 1086.5 43.7 1084.7 43.7 1082.8 43.8 1080.9 44.2 1078.9 44.8 1076.9 45.6 1075.0 46.6 1073.2 47.8 1071.5 49.2 1069.9 50.7 1068.6 52.2 1067.4 53.9 1066.5 55.6 1065.8 57.3 1065.4 59.0 1065.2 60.6 1065.3 62.2 1065.7 63.6 1066.3 64.9 1067.2 66.1 1068.3 67.0 1069.7 67.8 1071.2 68.3 1072.9 68.6 1074.7 68.7 1076.6 68.6 1078.5 68.2 1080.5 67.6 1082.5 66.8 1084.4M76.4 1072.4 77.1 1070.7 77.9 1069.2 79.0 1067.9 80.2 1066.9 81.5 1066.2 83.0 1065.6 84.7 1065.3 86.4 1065.2 88.1 1065.3 89.7 1065.7 91.2 1066.3 92.4 1067.0 93.5 1068.0 94.3 1069.2 94.8 1070.5 94.9 1071.9 94.4 1074.3 93.0 1076.7 90.9 1079.2 88.3 1081.8 85.3 1084.5 82.1 1087.3 79.0 1090.3 76.0 1093.6 95.7 1093.1M126.0 1084.4 125.0 1086.2 123.8 1087.9 122.5 1089.5 121.0 1090.9 119.4 1092.0 117.8 1092.9 116.1 1093.6 114.4 1094.1 112.7 1094.2 111.0 1094.1 109.5 1093.7 108.0 1093.1 106.7 1092.2 105.6 1091.1 104.6 1089.7 103.9 1088.2 103.3 1086.5 103.0 1084.7 102.9 1082.8 103.1 1080.9 103.5 1078.9 104.1 1076.9 104.9 1075.0 105.9 1073.2 107.1 1071.5 108.5 1069.9 109.9 1068.6 111.5 1067.4 113.2 1066.5 114.9 1065.8 116.6 1065.4 118.3 1065.2 119.9 1065.3 121.5 1065.7 122.9 1066.3 124.2 1067.2 125.4 1068.3 126.3 1069.7 127.1 1071.2 127.6 1072.9 127.9 1074.7 128.0 1076.6 127.8 1078.5 127.5 1080.5 126.9 1082.5 126.0 1084.4" stroke-width="2.8"/>
</g>
</svg>
</body></html>
